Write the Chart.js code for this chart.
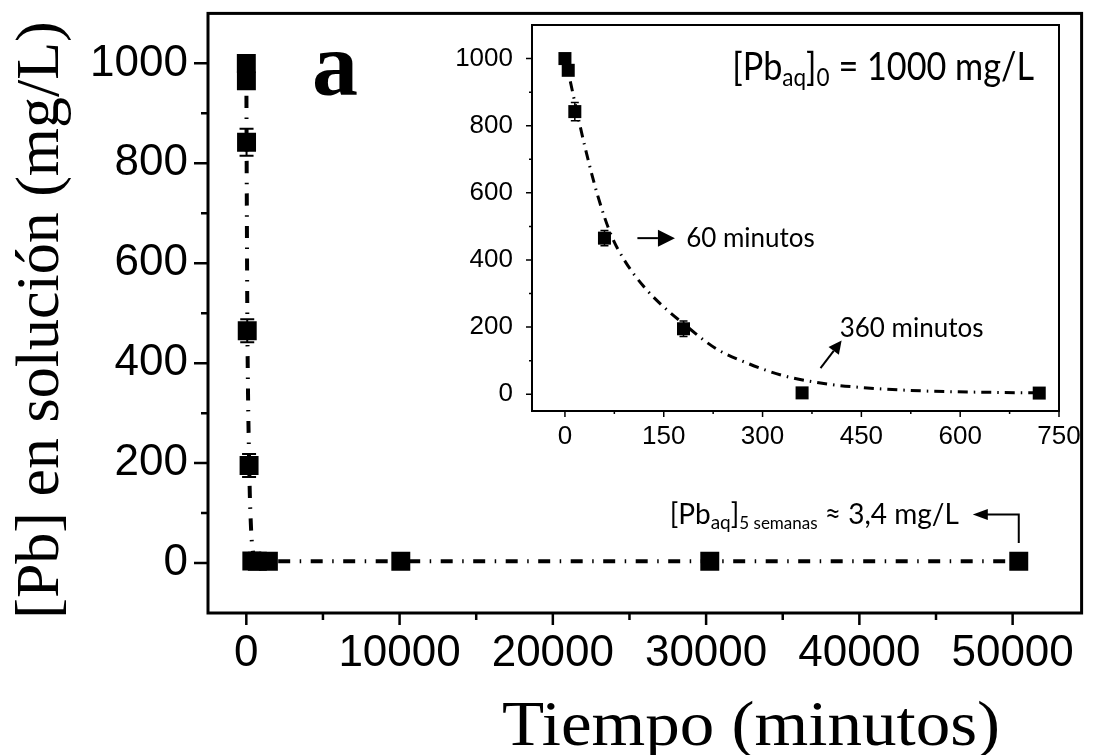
<!DOCTYPE html>
<html lang="es">
<head>
<meta charset="utf-8">
<title>Pb en solución</title>
<script src="https://cdn.jsdelivr.net/npm/chart.js@4.4.0/dist/chart.umd.min.js"></script>
<style>
  html, body { margin: 0; padding: 0; background: #fff; }
  #wrap { position: relative; width: 1095px; height: 755px; }
  #main { position: absolute; left: 0; top: 0; }
  #inset { position: absolute; left: 440px; top: 14px; }
</style>
</head>
<body>
<div id="wrap">
  <canvas id="main" width="1095" height="755"></canvas>
  <canvas id="inset" width="650" height="450"></canvas>
</div>
<script>
// muestras: tiempo (min) y [Pb] en solución (mg/L)
const tiempo = [0, 5, 15, 60, 180, 360, 720, 1440, 10080, 30240, 50400];
const pb = [1000, 965, 842, 465, 195, 4, 3.4, 3.4, 3.4, 3.4, 3.4];
const pbErr = [0, 0, 27, 23, 23, 0, 0, 0, 0, 0, 0];

// curva de ajuste (punto-raya)
const ajusteT = [0, 5, 15, 30, 50, 70, 90, 120, 150, 180, 230, 280, 330, 400, 450, 540, 630, 720];
const ajusteC = [1000, 960, 870, 740, 590, 475, 400, 320, 260, 210, 135, 90, 56, 30, 20, 10, 6, 4];
const ajusteLargoT = [1440, 10080, 30240, 50400];
const ajusteLargoC = [3.4, 3.4, 3.4, 3.4];

// ejes
const xTicksMain = [0, 10000, 20000, 30000, 40000, 50000];
const xMinorMain = [5000, 15000, 25000, 35000, 45000];
const yTicksMain = [0, 200, 400, 600, 800, 1000];
const yMinorMain = [100, 300, 500, 700, 900];
const xTicksInset = [0, 150, 300, 450, 600, 750];
const xMinorInset = [75, 225, 375, 525, 675];
const yTicksInset = [0, 200, 400, 600, 800, 1000];
const yMinorInset = [100, 300, 500, 700, 900];
const tMaxInset = 720;

const SANS = "'Liberation Sans', Arial, sans-serif";
const SERIF = "'Liberation Serif', 'Times New Roman', serif";
const CALI = "Lato, 'Open Sans', sans-serif";
const NEGRO = '#000';

const puntos = (xs, ys) => xs.map((t, i) => ({ x: t, y: ys[i] }));

// marco completo + ticks mayores/menores hacia afuera
function marco(cfg) {
  return {
    id: 'marco',
    afterDraw(chart) {
      const { ctx, chartArea: a, scales: { x, y } } = chart;
      ctx.save();
      ctx.strokeStyle = NEGRO;
      ctx.lineWidth = cfg.frame;
      ctx.strokeRect(a.left, a.top, a.right - a.left, a.bottom - a.top);
      ctx.lineWidth = cfg.tickWidth;
      ctx.beginPath();
      const xt = (vals, len) => vals.forEach(v => {
        const px = x.getPixelForValue(v);
        ctx.moveTo(px, a.bottom); ctx.lineTo(px, a.bottom + len);
      });
      const yt = (vals, len) => vals.forEach(v => {
        const py = y.getPixelForValue(v);
        ctx.moveTo(a.left, py); ctx.lineTo(a.left - len, py);
      });
      xt(cfg.xMajor, cfg.xLen); xt(cfg.xMinor, cfg.minLen);
      yt(cfg.yMajor, cfg.yLen); yt(cfg.yMinor, cfg.minLen);
      ctx.stroke();
      ctx.restore();
    }
  };
}

// barras de error sobre los puntos medidos
function errores(cap, lw, tmax) {
  return {
    id: 'errores',
    afterDatasetsDraw(chart) {
      const { ctx, scales: { x, y } } = chart;
      ctx.save();
      ctx.strokeStyle = NEGRO;
      ctx.lineWidth = lw;
      ctx.beginPath();
      tiempo.forEach((t, i) => {
        if (!pbErr[i] || t > tmax) return;
        const px = x.getPixelForValue(t);
        const y1 = y.getPixelForValue(pb[i] + pbErr[i]);
        const y2 = y.getPixelForValue(pb[i] - pbErr[i]);
        ctx.moveTo(px, y1); ctx.lineTo(px, y2);
        ctx.moveTo(px - cap, y1); ctx.lineTo(px + cap, y1);
        ctx.moveTo(px - cap, y2); ctx.lineTo(px + cap, y2);
      });
      ctx.stroke();
      ctx.restore();
    }
  };
}

// texto con subíndices: [texto, tamaño, desplazamiento]; sx comprime en horizontal
function anchoTexto(ctx, partes, sx = 1) {
  let w = 0;
  partes.forEach(([t, s]) => { ctx.font = s + 'px ' + CALI; w += ctx.measureText(t).width; });
  return w * sx;
}
function escribir(ctx, partes, x, y, sx = 1) {
  ctx.save();
  ctx.translate(x, y);
  ctx.scale(sx, 1);
  ctx.textAlign = 'left';
  ctx.textBaseline = 'alphabetic';
  let cx = 0;
  partes.forEach(([t, s, dy]) => {
    ctx.font = s + 'px ' + CALI;
    ctx.fillText(t, cx, dy);
    cx += ctx.measureText(t).width;
  });
  ctx.restore();
}
function flecha(ctx, x1, y1, x2, y2, largo, medio, lw) {
  const ang = Math.atan2(y2 - y1, x2 - x1);
  const bx = x2 - largo * Math.cos(ang), by = y2 - largo * Math.sin(ang);
  ctx.lineWidth = lw;
  ctx.beginPath();
  ctx.moveTo(x1, y1); ctx.lineTo(bx, by);
  ctx.stroke();
  ctx.beginPath();
  ctx.moveTo(x2, y2);
  ctx.lineTo(bx + medio * Math.sin(ang), by - medio * Math.cos(ang));
  ctx.lineTo(bx - medio * Math.sin(ang), by + medio * Math.cos(ang));
  ctx.closePath();
  ctx.fill();
}

const notasMain = {
  id: 'notasMain',
  afterDraw(chart) {
    const { ctx, scales: { x, y } } = chart;
    ctx.save();
    ctx.fillStyle = NEGRO;
    ctx.strokeStyle = NEGRO;

    ctx.font = 'bold 92px ' + SERIF;
    ctx.textAlign = 'left';
    ctx.textBaseline = 'alphabetic';
    ctx.fillText('a', 312, 95);

    // títulos de ejes
    ctx.font = '63px ' + SERIF;
    const tx = 'Tiempo (minutos)';
    ctx.save();
    ctx.translate(502, 745);
    ctx.scale(498 / ctx.measureText(tx).width, 1);
    ctx.fillText(tx, 0, 0);
    ctx.restore();
    ctx.save();
    ctx.translate(58, 320);
    ctx.rotate(-Math.PI / 2);
    ctx.textAlign = 'center';
    ctx.font = '62px ' + SERIF;
    ctx.fillText('[Pb] en solución (mg/L)', 0, 0);
    ctx.restore();

    // concentración a las 5 semanas con flecha acodada
    const cx = x.getPixelForValue(50400);
    const yBajo = y.getPixelForValue(40);
    const yAlto = y.getPixelForValue(97);
    const punta = x.getPixelForValue(47400);
    ctx.lineWidth = 2;
    ctx.beginPath();
    ctx.moveTo(cx, yBajo); ctx.lineTo(cx, yAlto); ctx.lineTo(punta + 14, yAlto);
    ctx.stroke();
    flecha(ctx, punta + 15, yAlto, punta, yAlto, 15, 5.5, 2);
    const partes = [['[Pb', 28, 0], ['aq', 19, 5], [']', 28, 0], ['5 semanas', 17, 5], [' \u2248 3,4 mg/L', 28, 0]];
    const w = anchoTexto(ctx, partes);
    escribir(ctx, partes, punta - 14 - w, yAlto + 9);
    ctx.restore();
  }
};

const notasInset = {
  id: 'notasInset',
  afterDraw(chart) {
    const { ctx, chartArea: a, scales: { x, y } } = chart;
    ctx.save();
    ctx.fillStyle = NEGRO;
    ctx.strokeStyle = NEGRO;

    const cab = [['[Pb', 38, 0], ['aq', 25, 6], [']', 38, 0], ['0', 25, 6], [' = 1000 mg/L', 38, 0]];
    const w = anchoTexto(ctx, cab, 0.9);
    escribir(ctx, cab, a.right - 25 - w, 66, 0.9);

    const y60 = y.getPixelForValue(465);
    flecha(ctx, x.getPixelForValue(110), y60, x.getPixelForValue(167), y60, 17, 8.5, 2);
    escribir(ctx, [['60 minutos', 26, 0]], x.getPixelForValue(184), y60 + 9);

    flecha(ctx, x.getPixelForValue(388), y.getPixelForValue(78),
      x.getPixelForValue(420), y.getPixelForValue(160), 13, 6.5, 2);
    escribir(ctx, [['360 minutos', 26, 0]], x.getPixelForValue(417), y.getPixelForValue(197) + 9);
    ctx.restore();
  }
};

// ejes sin rejilla; marcas dibujadas por el plugin "marco"
const ejeFijo = (ticks, tam, pad) => ({
  grid: { display: false, drawTicks: false },
  border: { display: false },
  ticks: {
    color: NEGRO, font: { family: SANS, size: tam }, padding: pad,
    maxRotation: 0, autoSkip: false, callback: v => String(v)
  },
  afterBuildTicks: s => { s.ticks = ticks.map(v => ({ value: v })); }
});
const sinRelleno = s => { s.paddingTop = 0; s.paddingBottom = 0; s.paddingLeft = 0; s.paddingRight = 0; };

const base = {
  responsive: false,
  animation: false,
  events: [],
  plugins: { legend: { display: false }, tooltip: { enabled: false } }
};

new Chart(document.getElementById('main'), {
  type: 'line',
  data: {
    datasets: [
      {
        data: puntos(tiempo, pb),
        showLine: false,
        pointStyle: 'rect',
        pointRadius: 13.4,
        pointBackgroundColor: NEGRO,
        pointBorderWidth: 0
      },
      {
        data: puntos(ajusteT.concat(ajusteLargoT), ajusteC.concat(ajusteLargoC)),
        borderColor: NEGRO,
        borderWidth: 4,
        borderDash: [12, 9.5, 1.5, 9.5],
        cubicInterpolationMode: 'monotone',
        pointRadius: 0,
        fill: false
      }
    ]
  },
  options: {
    ...base,
    layout: { padding: { top: 10, right: 4, left: 0, bottom: 0 } },
    scales: {
      x: { type: 'linear', min: -2500, max: 54500, ...ejeFijo(xTicksMain, 44, 14),
        afterFit: s => { s.height = 142; sinRelleno(s); } },
      y: { type: 'linear', min: -100, max: 1100, ...ejeFijo(yTicksMain, 44, 20),
        afterFit: s => { s.width = 208; sinRelleno(s); } }
    }
  },
  plugins: [
    marco({ frame: 3, tickWidth: 2.5, xMajor: xTicksMain, xMinor: xMinorMain, yMajor: yTicksMain,
      yMinor: yMinorMain, xLen: 12, yLen: 14, minLen: 7 }),
    errores(7, 2, Infinity),
    notasMain
  ]
});

const enInset = tiempo.filter(t => t <= tMaxInset).length;

new Chart(document.getElementById('inset'), {
  type: 'line',
  data: {
    datasets: [
      {
        data: puntos(tiempo.slice(0, enInset), pb.slice(0, enInset)),
        showLine: false,
        pointStyle: 'rect',
        pointRadius: 9.2,
        pointBackgroundColor: NEGRO,
        pointBorderWidth: 0
      },
      {
        data: puntos(ajusteT, ajusteC),
        borderColor: NEGRO,
        borderWidth: 3,
        borderDash: [10, 6, 1.5, 6],
        cubicInterpolationMode: 'monotone',
        pointRadius: 0,
        fill: false
      }
    ]
  },
  options: {
    ...base,
    layout: { padding: { top: 11, right: 31, left: 0, bottom: 0 } },
    scales: {
      x: { type: 'linear', min: -50, max: 750, ...ejeFijo(xTicksInset, 26, 10),
        afterFit: s => { s.height = 53; sinRelleno(s); } },
      y: { type: 'linear', min: -50, max: 1100, ...ejeFijo(yTicksInset, 26, 19),
        afterFit: s => { s.width = 92; sinRelleno(s); } }
    }
  },
  plugins: [
    marco({ frame: 2, tickWidth: 1.5, xMajor: xTicksInset, xMinor: xMinorInset, yMajor: yTicksInset,
      yMinor: yMinorInset, xLen: 6, yLen: 6, minLen: 3 }),
    errores(4, 1.5, tMaxInset),
    notasInset
  ]
});
</script>
</body>
</html>
